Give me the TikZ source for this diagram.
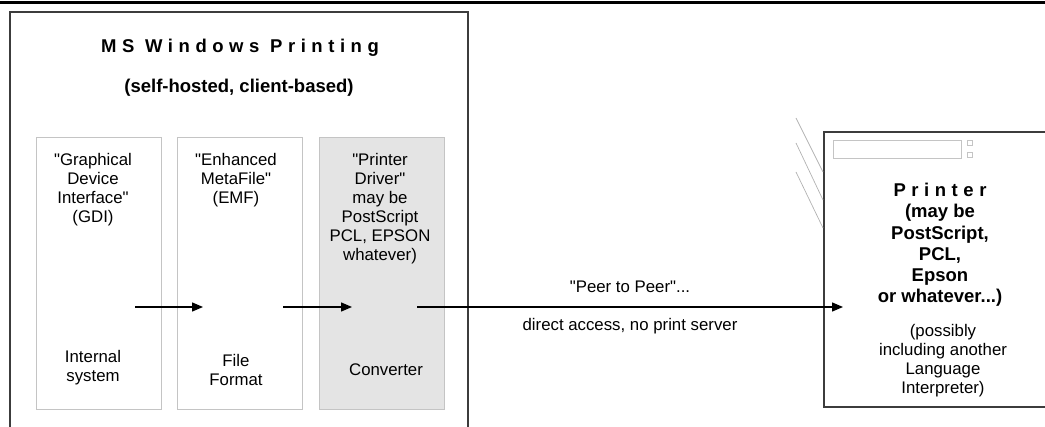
\documentclass[tikz,border=0pt]{standalone}
\usepackage{fontspec}
\setmainfont{Liberation Sans}[Ligatures=TeXOff]
\usetikzlibrary{arrows.meta,positioning,calc}
\def \boxGap {16pt}
\def \boxWidth {125pt}
\def \boxHeight {272pt}
\definecolor{boxgrey}{HTML}{C4C4C4}
\definecolor{fillgrey}{HTML}{E4E4E4}
\definecolor{framegrey}{HTML}{3C3C3C}
\newcommand\regfont{\fontsize{16.8}{19}\selectfont}
\newcommand\boldfont{\fontsize{18.5}{21.2}\selectfont\bfseries}
\newcommand\spaced[1]{{\addfontfeature{LetterSpace=30}#1}}
\tikzset{
	stageblock/.style= {draw=boxgrey, line width=0.8pt, rectangle, minimum width=\boxWidth, minimum height=\boxHeight, inner sep=0pt},
	stagetext/.style= {align=center, inner sep=0pt, font=\regfont},
	headtext/.style= {align=center, inner sep=0pt, font=\boldfont},
	frame/.style= {draw=framegrey, line width=1.8pt},
	flow/.style= {-{Triangle[length=11pt,width=9pt]}, line width=1.4pt},
	hatch/.style= {draw=gray!60, line width=0.7pt},
	keyblock/.style= {draw=boxgrey, line width=0.6pt, rectangle, inner sep=0pt}
}
\begin{document}
\begin{tikzpicture}[x=1pt,y=-1pt]
	\useasboundingbox (0,0) rectangle (1045,427);
	\draw[line width=3pt] (0,2.5) -- (1045,2.5);

%%%%%%%%%%%%%%%%%%%%% Client %%%%%%%%%%%%%%%%%%%%%
	\draw[frame] (10,432) -- (10,12) -- (468,12) -- (468,432);
	\node [headtext] (title) at (240,48) {\spaced{MS Windows Printing}};
	\node [headtext] (subtitle) at (239,88) {(self-hosted, client-based)};

	\node [stageblock] (gdi) at (98.5,273) {};
	\node [stageblock, right =\boxGap of gdi] (emf) {};
	\node [stageblock, fill=fillgrey, right =\boxGap of emf] (drv) {};

	\node [stagetext] (gdiName) at (93,189.5) {"Graphical\\Device\\Interface"\\(GDI)};
	\node [stagetext] (emfName) at (236,180) {"Enhanced\\MetaFile"\\(EMF)};
	\node [stagetext] (drvName) at (380,208.5) {"Printer\\Driver"\\may be\\PostScript\\PCL, EPSON\\whatever)};

	\node [stagetext] (gdiRole) at (93,367.5) {Internal\\system};
	\node [stagetext] (emfRole) at (236,370) {File\\Format};
	\node [stagetext] (drvRole) at (386,370) {Converter};

%%%%%%%%%%%%%%%%%%%%% Printer %%%%%%%%%%%%%%%%%%%%%
	\node [minimum width=222pt, minimum height=275pt, inner sep=0pt] (printer) at (935,269.5) {};
	\draw[frame] (printer.north east) -- (printer.north west) -- (printer.south west) -- (printer.south east);
	\node [keyblock, minimum width=128pt, minimum height=18pt] (display) at (897,149) {};
	\node [keyblock, minimum width=5pt, minimum height=5pt] (keyA) at (970,142.5) {};
	\node [keyblock, minimum width=5pt, minimum height=5pt] (keyB) at (970,155) {};
	\foreach \ya/\yb in {118/172, 143/200, 172/228}
		\draw[hatch] (796,\ya) -- (823,\yb);

	\node [headtext] (printerName) at (940,245) {\spaced{Printer}\\(may be\\PostScript,\\PCL,\\Epson\\or whatever...)};
	\node [stagetext] (printerNote) at (943,361) {(possibly\\including another\\Language\\Interpreter)};

%%%%%%%%%%%%%%%%%%%%% Links %%%%%%%%%%%%%%%%%%%%%
	\coordinate (gdiOut) at (135,307);
	\coordinate (emfIn) at (203,307);
	\coordinate (emfOut) at (283,307);
	\coordinate (drvIn) at (352,307);
	\coordinate (drvOut) at (417,307);
	\coordinate (printerIn) at (843,307);

	\draw[flow] (gdiOut) -- (emfIn);
	\draw[flow] (emfOut) -- (drvIn);
	\draw[flow] (drvOut) -- node[stagetext, above=14pt, pos=0.5] (peer) {"Peer to Peer"...}
		node[stagetext, below=11pt, pos=0.5] (direct) {direct access, no print server} (printerIn);

\end{tikzpicture}
\end{document}
